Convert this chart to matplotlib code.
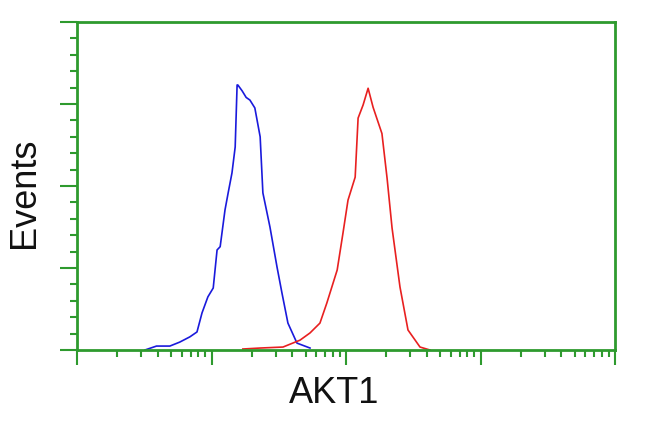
import numpy as np
import matplotlib.pyplot as plt
from matplotlib.ticker import LogLocator, MultipleLocator, NullFormatter

# control (blue) histogram: fluorescence intensity vs events
ctrl_x = [3.2, 3.9, 4.9, 5.8, 6.9, 7.8, 8.5, 9.4, 10.3, 11.0, 11.6, 12.6, 13.3,
          14.2, 15.0, 15.5, 15.7, 16.9, 18.1, 19.3, 21.0, 23.0, 24.1, 27.2,
          30.7, 33.4, 37.0, 43.2, 54.0]
ctrl_y = [0.0, 1.2, 1.2, 2.4, 4.0, 5.5, 11.3, 16.2, 18.9, 30.5, 31.5, 42.7, 47.9,
          54.0, 61.9, 80.8, 80.8, 79.0, 77.0, 76.2, 73.8, 65.0, 47.9, 37.5,
          25.3, 17.4, 8.2, 2.1, 0.6]

# AKT1 stained (red) histogram
akt_x = [17.1, 23.0, 34.0, 45.5, 54.0, 64.0, 72.0, 86.0, 95.0, 103.5, 117.0,
         123.0, 134.0, 146.0, 159.0, 185.0, 202.0, 220.0, 252.0, 289.0, 355.0, 421.0]
akt_y = [0.3, 0.6, 0.9, 3.0, 5.2, 8.2, 14.3, 24.4, 35.7, 45.7, 52.7,
         70.7, 74.7, 79.8, 74.0, 66.0, 52.4, 37.2, 19.2, 6.1, 0.9, 0.0]

green = "#2e9a2e"
plt.rcParams["font.family"] = ["Liberation Sans", "DejaVu Sans"]

fig = plt.figure(figsize=(6.5, 4.32), dpi=100)
ax = fig.add_axes([77 / 650, 1 - 350 / 432, 538 / 650, 328 / 432])

ax.plot(ctrl_x, ctrl_y, color="#1a1adc", lw=1.2)
ax.plot(akt_x, akt_y, color="#e82020", lw=1.2)

ax.set_xscale("log")
ax.set_xlim(1, 1e4)
ax.set_ylim(0, 100)

ax.xaxis.set_major_locator(LogLocator(base=10, numticks=10))
ax.xaxis.set_minor_locator(LogLocator(base=10, subs=np.arange(2, 10), numticks=20))
ax.xaxis.set_major_formatter(NullFormatter())
ax.xaxis.set_minor_formatter(NullFormatter())
ax.yaxis.set_major_locator(MultipleLocator(25))
ax.yaxis.set_minor_locator(MultipleLocator(5))
ax.yaxis.set_major_formatter(NullFormatter())

for s in ax.spines.values():
    s.set_color(green)
    s.set_linewidth(2)

ax.tick_params(which="major", direction="out", length=12, width=1.5, color=green)
ax.tick_params(which="minor", direction="out", length=5, width=1.5, color=green)
ax.tick_params(axis="x", which="major", length=11)
ax.tick_params(axis="x", which="minor", length=5)

ax.set_xlabel("AKT1", fontsize=26, color="#111111", va="center")
ax.set_ylabel("Events", fontsize=26, color="#111111", va="center")
ax.xaxis.set_label_coords(0.478, -0.134)
ax.yaxis.set_label_coords(-0.097, 0.479)

fig.savefig("out.png", dpi=100)
